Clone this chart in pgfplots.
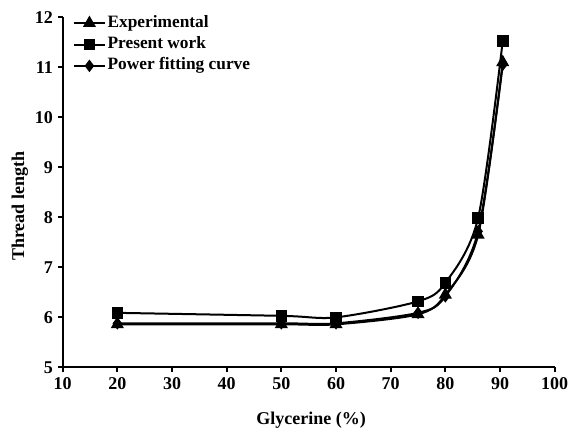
\documentclass[border=0pt]{standalone}
\usepackage{pgfplots}
\pgfplotsset{compat=1.18}
\usepackage{fontspec}
\setmainfont{Liberation Serif}
\begin{document}
\begin{tikzpicture}
\begin{axis}[
  scale only axis,
  width=369pt, height=262.5pt,
  xmin=10, xmax=100, ymin=5, ymax=12,
  xtick={10,20,...,100}, ytick={5,6,...,12},
  axis lines*=left,
  axis line style={line width=1.5pt},
  tick style={line width=1.5pt, black},
  tick align=outside,
  major tick length=3.8pt,
  /pgf/number format/assume math mode=true,
  ticklabel style={font=\fontsize{13.5}{16}\selectfont\bfseries},
  label style={font=\fontsize{13.5}{16}\selectfont\bfseries},
  xlabel={Glycerine (\%)},
  ylabel={Thread length},
  xlabel style={at={(axis description cs:0.505,-0.152)}, anchor=center},
  ylabel style={at={(axis description cs:-0.087,0.46)}, anchor=center},
  legend style={draw=none, fill=none, at={(axis description cs:0.021,1)}, yshift=3.8pt, anchor=north west,
    font=\fontsize{13}{15}\selectfont\bfseries, row sep=0pt, inner sep=0pt,
    nodes={inner sep=1.5pt, text height=9.5pt, text depth=3.5pt}},
  legend cell align=left,
  legend image code/.code={\draw[mark repeat=2,mark phase=2,line width=1.5pt] plot coordinates {(0cm,0cm) (0.4cm,0cm) (0.8cm,0cm)};},
  clip=false,
]
\addplot[black, line width=1.5pt, smooth, tension=0.5, mark=triangle*, mark size=4.2pt]
  coordinates {(20,5.86) (50,5.86) (60,5.86) (75,6.06) (80,6.45) (86,7.65) (90.5,11.1)};
\addlegendentry{Experimental}
\addplot[black, line width=1.5pt, smooth, tension=0.5, mark=square*, mark size=3.6pt]
  coordinates {(20,6.09) (50,6.03) (60,6.00) (75,6.32) (80,6.69) (86,7.99) (90.5,11.53)};
\addlegendentry{Present work}
\addplot[black, line width=1.5pt, smooth, tension=0.5, mark=diamond*, mark size=3.5pt]
  coordinates {(20,5.88) (50,5.88) (60,5.88) (75,6.09) (80,6.42) (86,7.72) (90.5,11.05)};
\addlegendentry{Power fitting curve}
\end{axis}
\pgfresetboundingbox
\path[use as bounding box] ([shift={(-47pt,-50pt)}]current axis.south west) rectangle ([shift={(14.5pt,13pt)}]current axis.north east);
\end{tikzpicture}
\end{document}
